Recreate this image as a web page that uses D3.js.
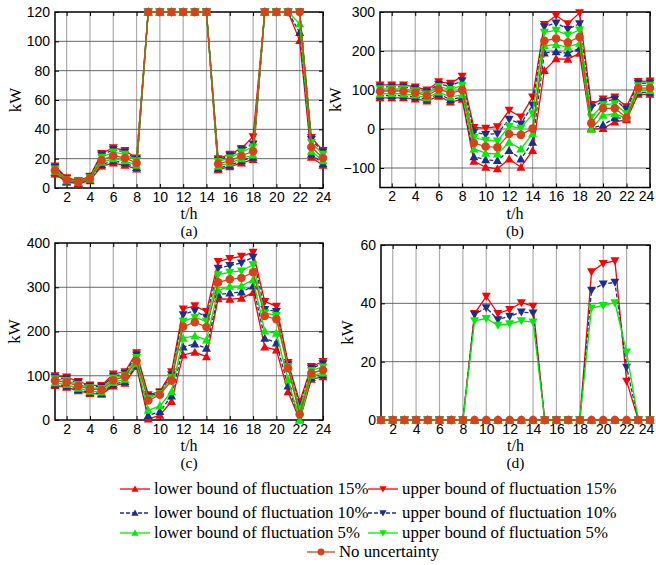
<!DOCTYPE html>
<html>
<head>
<meta charset="utf-8">
<script src="https://cdn.jsdelivr.net/npm/d3@7"></script>
<style>
  body { margin: 0; background: #fff; }
  svg { display: block; }
</style>
</head>
<body>
<div id="chart"></div>
<script>
// heures
const hours = [1, 2, 3, 4, 5, 6, 7, 8, 9, 10, 11, 12, 13, 14, 15, 16, 17, 18, 19, 20, 21, 22, 23, 24];
const xTicks = [2, 4, 6, 8, 10, 12, 14, 16, 18, 20, 22, 24];

// (a)
const aBase = [12, 5.5, 4, 6.5, 19, 22, 20.5, 17, 120, 120, 120, 120, 120, 120, 16.5, 18.5, 22, 25, 120, 120, 120, 120, 28, 20.5];
const aUp15 = [15, 7, 5, 8, 23.5, 27.5, 25.5, 20.5, 120, 120, 120, 120, 120, 120, 20, 23, 27, 35, 120, 120, 120, 120, 34.5, 25.5];
const aUp10 = [14, 6.5, 4.6, 7.5, 22.5, 26, 24.5, 19.5, 120, 120, 120, 120, 120, 120, 19, 22, 26, 30, 120, 120, 120, 120, 33, 24.5];
const aUp5 = [13, 6, 4.3, 7, 21, 24.5, 23, 18.5, 120, 120, 120, 120, 120, 120, 18, 20.5, 24.5, 28, 120, 120, 120, 120, 31, 23];
const aLow5 = [11, 5, 3.8, 6, 17.5, 20, 18.5, 15.5, 120, 120, 120, 120, 120, 120, 15, 17, 20, 22.5, 120, 120, 120, 112, 25, 18.5];
const aLow10 = [10.5, 4.5, 3.5, 5.5, 16, 18.5, 17, 14, 120, 120, 120, 120, 120, 120, 13.5, 15.5, 18.5, 21, 120, 120, 120, 106, 23, 16.5];
const aLow15 = [9.5, 4, 3, 5, 15, 17, 15.5, 13, 120, 120, 120, 120, 120, 120, 12.5, 14.5, 17, 19.5, 120, 120, 120, 100.5, 21, 15.5];
const aTicks = [0, 20, 40, 60, 80, 100, 120];

// (b)
const bBase = [97, 98, 97, 93, 86, 102, 92, 100, -36, -45, -47, -13, -15, 1, 226, 232, 222, 236, 15, 53, 53, 29, 105, 105];
const bUp15 = [113, 113, 113, 108, 100, 121, 117, 135, 4, 2, 6, 48, 31, 82, 268, 291, 270, 298, 63, 77, 82, 57, 122, 123];
const bUp10 = [108, 108, 108, 103, 95, 115, 110, 124, -8, -14, -12, 25, 13, 61, 262, 272, 256, 270, 55, 70, 76, 50, 117, 118];
const bUp5 = [103, 103, 103, 98, 90, 109, 101, 112, -22, -29, -31, 7, 2, 39, 248, 253, 241, 254, 30, 62, 65, 39, 111, 112];
const bLow5 = [90, 91, 90, 87, 80, 95, 82, 88, -51, -62, -64, -34, -51, -12, 214, 216, 210, 220, 0, 35, 39, 28, 99, 99];
const bLow10 = [85, 86, 85, 82, 76, 90, 75, 82, -71, -79, -81, -55, -77, -34, 195, 198, 194, 207, 2, 10, 29, 27, 94, 94];
const bLow15 = [80, 80, 80, 77, 72, 84, 69, 76, -83, -98, -102, -77, -98, -55, 150, 180, 179, 194, 0, 1, 18, 24, 89, 89];
const bTicks = [-100, 0, 100, 200, 300];

// (c)
const cBase = [89, 85, 77, 70, 68, 90, 98, 134, 44, 57, 89, 211, 221, 210, 311, 318, 321, 334, 235, 228, 117, 13, 106, 113];
const cUp15 = [100, 97, 87, 79, 78, 104, 109, 152, 57, 64, 109, 251, 258, 245, 358, 365, 370, 379, 268, 257, 130, 41, 121, 132];
const cUp10 = [96, 93, 84, 76, 75, 99, 105, 147, 53, 62, 102, 238, 247, 232, 343, 349, 355, 368, 250, 245, 125, 34, 117, 127];
const cUp5 = [93, 89, 80, 73, 71, 95, 101, 141, 49, 60, 96, 223, 232, 223, 328, 334, 337, 351, 242, 236, 121, 25, 112, 120];
const cLow5 = [84, 80, 72, 65, 63, 85, 92, 128, 22, 32, 64, 185, 190, 181, 293, 302, 303, 317, 201, 196, 91, 0, 101, 106];
const cLow10 = [81, 77, 69, 62, 60, 81, 87, 124, 10, 19, 54, 165, 172, 162, 283, 287, 289, 303, 185, 174, 77, 2, 96, 102];
const cLow15 = [78, 74, 66, 60, 58, 77, 83, 121, 2, 11, 42, 147, 153, 143, 274, 273, 275, 288, 165, 158, 64, 0, 92, 98];
const cTicks = [0, 100, 200, 300, 400];

// (d)
const dBase = [0, 0, 0, 0, 0, 0, 0, 0, 0, 0, 0, 0, 0, 0, 0, 0, 0, 0, 0, 0, 0, 0, 0, 0];
const dUp15 = [0, 0, 0, 0, 0, 0, 0, 0, 36.5, 42.4, 36.5, 37.9, 40.2, 39, 0, 0, 0, 0, 50.8, 53.7, 54.6, 13.3, 0, 0];
const dUp10 = [0, 0, 0, 0, 0, 0, 0, 0, 36.2, 38.5, 34.4, 35.6, 37, 36.7, 0, 0, 0, 0, 44.5, 46.6, 47.2, 18.1, 0, 0];
const dUp5 = [0, 0, 0, 0, 0, 0, 0, 0, 34, 34.8, 32.5, 33, 34, 33.6, 0, 0, 0, 0, 38.4, 39.3, 40.2, 23.3, 0, 0];
const dLow5 = [0, 0, 0, 0, 0, 0, 0, 0, 0, 0, 0, 0, 0, 0, 0, 0, 0, 0, 0, 0, 0, 0, 0, 0];
const dLow10 = [0, 0, 0, 0, 0, 0, 0, 0, 0, 0, 0, 0, 0, 0, 0, 0, 0, 0, 0, 0, 0, 0, 0, 0];
const dLow15 = [0, 0, 0, 0, 0, 0, 0, 0, 0, 0, 0, 0, 0, 0, 0, 0, 0, 0, 0, 0, 0, 0, 0, 0];
const dTicks = [0, 20, 40, 60];

const seriesNames = [
  "lower bound of fluctuation 15%", "upper bound of fluctuation 15%",
  "lower bound of fluctuation 10%", "upper bound of fluctuation 10%",
  "lower bound of fluctuation 5%", "upper bound of fluctuation 5%",
  "No uncertainty"
];

const RED = "#ff0000", BLUE = "#1b2f8f", GREEN = "#00ee00", ORANGE = "#d9411a";
// style de chaque série (même ordre que seriesNames)
const styles = [
  { color: RED, dash: null, mk: "up" },
  { color: RED, dash: null, mk: "down" },
  { color: BLUE, dash: "4,2", mk: "up" },
  { color: BLUE, dash: "4,2", mk: "down" },
  { color: GREEN, dash: null, mk: "up" },
  { color: GREEN, dash: null, mk: "down" },
  { color: ORANGE, dash: null, mk: "dot" }
];

const panels = [
  { tag: "(a)", series: [aLow15, aUp15, aLow10, aUp10, aLow5, aUp5, aBase], yDom: [0, 120], yTicks: aTicks,
    left: 55, right: 323, top: 12, bottom: 188, kwX: 16 },
  { tag: "(b)", series: [bLow15, bUp15, bLow10, bUp10, bLow5, bUp5, bBase], yDom: [-150, 300], yTicks: bTicks,
    left: 380, right: 650, top: 12, bottom: 187.5, kwX: 336 },
  { tag: "(c)", series: [cLow15, cUp15, cLow10, cUp10, cLow5, cUp5, cBase], yDom: [0, 400], yTicks: cTicks,
    left: 55, right: 323, top: 243, bottom: 420, kwX: 15 },
  { tag: "(d)", series: [dLow15, dUp15, dLow10, dUp10, dLow5, dUp5, dBase], yDom: [0, 60], yTicks: dTicks,
    left: 381, right: 650, top: 245, bottom: 420, kwX: 348 }
];

const W = 656, H = 565;
const svg = d3.select("#chart").append("svg").attr("width", W).attr("height", H);

// marqueurs
function markerPath(type, s) {
  if (type === "up") return `M0,${-4.5 * s}L${4.5 * s},${3.5 * s}L${-4.5 * s},${3.5 * s}Z`;
  if (type === "down") return `M0,${4.5 * s}L${4.5 * s},${-3.5 * s}L${-4.5 * s},${-3.5 * s}Z`;
  return null;
}
function drawMarker(g, type, x, y, color, s) {
  if (type === "dot") {
    g.append("circle").attr("cx", x).attr("cy", y).attr("r", 4.3 * s).attr("fill", color);
  } else {
    g.append("path").attr("transform", `translate(${x},${y})`).attr("d", markerPath(type, s)).attr("fill", color);
  }
}

function drawPanel(p) {
  const x = d3.scaleLinear().domain([1, 24]).range([p.left, p.right]);
  const y = d3.scaleLinear().domain(p.yDom).range([p.bottom, p.top]);
  const g = svg.append("g");

  // grille
  g.selectAll(".vgrid").data(xTicks.filter(t => t < 24)).enter().append("line")
    .attr("x1", d => x(d)).attr("x2", d => x(d)).attr("y1", p.top).attr("y2", p.bottom)
    .attr("stroke", "#adadad").attr("stroke-width", 1.2);
  g.selectAll(".hgrid").data(p.yTicks.filter(t => t > p.yDom[0] && t < p.yDom[1])).enter().append("line")
    .attr("x1", p.left).attr("x2", p.right).attr("y1", d => y(d)).attr("y2", d => y(d))
    .attr("stroke", "#555").attr("stroke-width", 0.9);

  // axes (ticks vers l'intérieur, style boîte)
  const axB = g.append("g").attr("transform", `translate(0,${p.bottom})`)
    .call(d3.axisBottom(x).tickValues(xTicks).tickSizeInner(-4).tickSizeOuter(0).tickPadding(4));
  const axT = g.append("g").attr("transform", `translate(0,${p.top})`)
    .call(d3.axisTop(x).tickValues(xTicks).tickSizeInner(-4).tickSizeOuter(0).tickFormat(""));
  const axL = g.append("g").attr("transform", `translate(${p.left},0)`)
    .call(d3.axisLeft(y).tickValues(p.yTicks).tickSizeInner(-4).tickSizeOuter(0).tickPadding(5));
  const axR = g.append("g").attr("transform", `translate(${p.right},0)`)
    .call(d3.axisRight(y).tickValues(p.yTicks).tickSizeInner(-4).tickSizeOuter(0).tickFormat(""));
  [axB, axT, axL, axR].forEach(a => {
    a.select(".domain").remove();
    a.selectAll("line").attr("stroke", "#000");
    a.selectAll("text").attr("font-family", "Liberation Sans, Arial, sans-serif").attr("font-size", 14).attr("fill", "#000");
  });
  // le dernier libellé ne doit pas sortir du cadre
  if (p.right > W - 12) axB.selectAll(".tick").filter(d => d === 24).select("text").attr("dx", -4);

  g.append("rect").attr("x", p.left).attr("y", p.top)
    .attr("width", p.right - p.left).attr("height", p.bottom - p.top)
    .attr("fill", "none").attr("stroke", "#000").attr("stroke-width", 1.5);

  // courbes : ligne puis marqueurs, série par série
  const line = d3.line().x((d, i) => x(hours[i])).y(d => y(d));
  p.series.forEach((vals, k) => {
    const st = styles[k];
    g.append("path").datum(vals).attr("d", line)
      .attr("fill", "none").attr("stroke", st.color).attr("stroke-width", 1.3)
      .attr("stroke-dasharray", st.dash);
    const mg = g.append("g");
    vals.forEach((v, i) => drawMarker(mg, st.mk, x(hours[i]), y(v), st.color, 1));
  });

  // libellés
  const serif = "Liberation Serif, Times New Roman, serif";
  g.append("text").attr("transform", `translate(${p.kwX + 5},${(p.top + p.bottom) / 2}) rotate(-90)`)
    .attr("text-anchor", "middle").attr("font-family", serif).attr("font-size", 17).text("kW");
  g.append("text").attr("x", (p.left + p.right) / 2).attr("y", p.bottom + 31)
    .attr("text-anchor", "middle").attr("font-family", serif).attr("font-size", 16).text("t/h");
  g.append("text").attr("x", (p.left + p.right) / 2).attr("y", p.bottom + 48)
    .attr("text-anchor", "middle").attr("font-family", serif).attr("font-size", 15.5).text(p.tag);
}

panels.forEach(drawPanel);

// légende
const legendPos = [
  { x: 120, y: 489 }, { x: 368, y: 489 },
  { x: 120, y: 513 }, { x: 368, y: 513 },
  { x: 120, y: 533 }, { x: 368, y: 533 },
  { x: 307, y: 552 }
];
const lg = svg.append("g");
seriesNames.forEach((name, k) => {
  const st = styles[k], pos = legendPos[k];
  const len = k === 6 ? 28 : 30;
  lg.append("line").attr("x1", pos.x).attr("x2", pos.x + len).attr("y1", pos.y).attr("y2", pos.y)
    .attr("stroke", st.color).attr("stroke-width", 1.3).attr("stroke-dasharray", st.dash);
  drawMarker(lg, st.mk, pos.x + len / 2, pos.y, st.color, 0.8);
  lg.append("text").attr("x", pos.x + len + 4).attr("y", pos.y + 5)
    .attr("font-family", "Liberation Serif, Times New Roman, serif").attr("font-size", 16.8)
    .text(name);
});
</script>
</body>
</html>
